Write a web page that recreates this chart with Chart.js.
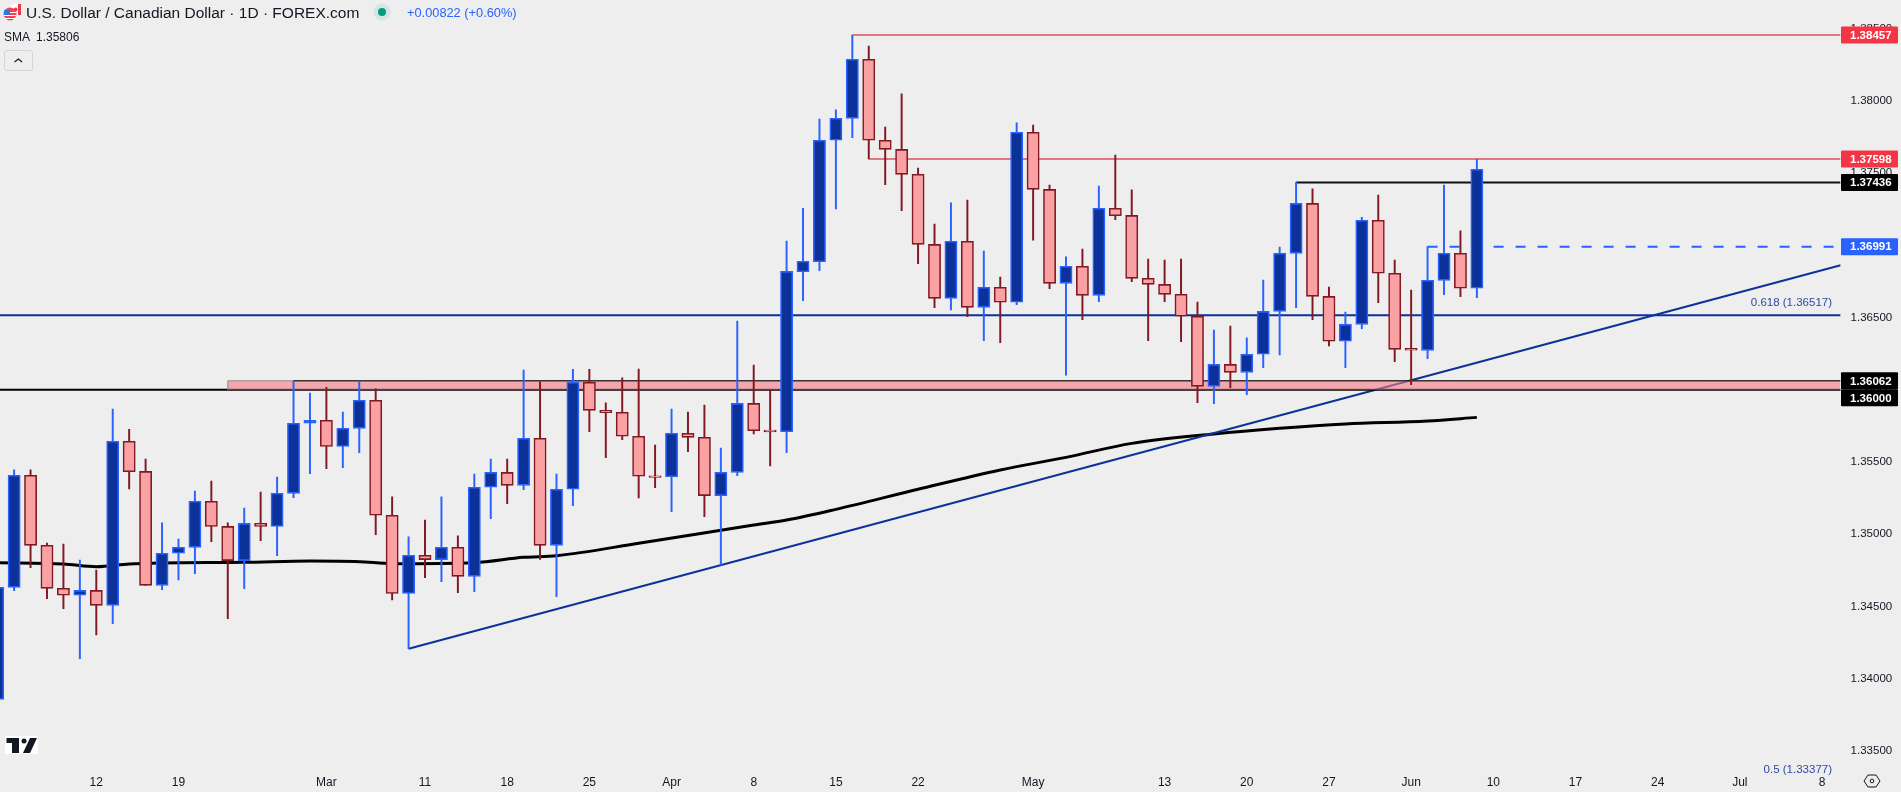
<!DOCTYPE html>
<html>
<head>
<meta charset="utf-8">
<title>USD/CAD daily</title>
<script src="https://cdn.jsdelivr.net/npm/chart.js@4/dist/chart.umd.js"></script>
<style>
  html, body { margin: 0; padding: 0; background: #eeeeee; overflow: hidden; }
  #wrap { position: relative; width: 1901px; height: 792px; }
  #wrap div { position: absolute; white-space: nowrap; font-family: "Liberation Sans", sans-serif; color: #131722; }
  #title { left: 26px; top: 4px; font-size: 15.5px; line-height: 18px; }
  #change { left: 407px; top: 4px; font-size: 12.8px; line-height: 18px; color: #2962ff !important; }
  #sma { left: 4px; top: 29px; font-size: 12px; line-height: 16px; }
  #sma span { margin-left: 6px; }
  #collapse { left: 4px; top: 50px; width: 27px; height: 19px; border: 1px solid #d3d3de; border-radius: 3px; }
</style>
</head>
<body>
<div id="wrap">
  <canvas id="chart" width="1901" height="792"></canvas>
  <div id="title">U.S. Dollar / Canadian Dollar · 1D · FOREX.com</div>
  <div id="change">+0.00822 (+0.60%)</div>
  <div id="sma">SMA<span>1.35806</span></div>
  <div id="collapse"></div>
</div>
<script>
// trading day number of the first candle, Feb 12 2024 is day 0
const firstDay = -6;

const opens = [
  1.33856, 1.34632, 1.35408, 1.34923, 1.34625, 1.34577, 1.34611, 1.34507, 1.35643, 1.35435,
  1.34646, 1.34868, 1.34909, 1.35228, 1.35054, 1.34817, 1.35075, 1.35054, 1.35283, 1.35768,
  1.35789, 1.35608, 1.35733, 1.35927, 1.35131, 1.34590, 1.34854, 1.34824, 1.34909, 1.34708,
  1.35325, 1.35428, 1.35338, 1.35664, 1.34923, 1.35311, 1.36052, 1.35858, 1.35844, 1.35678,
  1.35405, 1.35398, 1.35699, 1.35671, 1.35267, 1.35428, 1.35906, 1.35721, 1.35710, 1.36818,
  1.36887, 1.37728, 1.37880, 1.38289, 1.37728, 1.37665, 1.37492, 1.37007, 1.36633, 1.37028,
  1.36571, 1.36710, 1.36606, 1.37783, 1.37388, 1.36737, 1.36855, 1.36654, 1.37257, 1.37208,
  1.36772, 1.36730, 1.36661, 1.36509, 1.36024, 1.36176, 1.36121, 1.36246, 1.36543, 1.36945,
  1.37291, 1.36647, 1.36336, 1.36453, 1.37174, 1.36807, 1.36287, 1.36273, 1.36758, 1.36945,
  1.36703
];
const highs = [
  1.34632, 1.35445, 1.35445, 1.34939, 1.34932, 1.34821, 1.34752, 1.35867, 1.35726, 1.35521,
  1.35078, 1.34967, 1.35299, 1.35368, 1.35078, 1.35181, 1.35292, 1.35396, 1.36061, 1.35978,
  1.36017, 1.35846, 1.36061, 1.36006, 1.35258, 1.34981, 1.35098, 1.35258, 1.34988, 1.35417,
  1.35521, 1.35521, 1.36137, 1.36056, 1.35417, 1.36142, 1.36142, 1.35909, 1.36082, 1.36144,
  1.35618, 1.35867, 1.35846, 1.35895, 1.35597, 1.36476, 1.36172, 1.35999, 1.37030, 1.37257,
  1.37875, 1.37938, 1.38457, 1.38381, 1.37820, 1.38049, 1.37536, 1.37148, 1.37294, 1.37314,
  1.36961, 1.36781, 1.37848, 1.37834, 1.37418, 1.36920, 1.36975, 1.37411, 1.37626, 1.37384,
  1.36906, 1.36899, 1.36906, 1.36608, 1.36414, 1.36442, 1.36359, 1.36760, 1.36989, 1.37436,
  1.37391, 1.36712, 1.36539, 1.37194, 1.37349, 1.36899, 1.36691, 1.36991, 1.37418, 1.37100,
  1.37598
];
const lows = [
  1.33856, 1.34609, 1.34768, 1.34554, 1.34484, 1.34138, 1.34302, 1.34380, 1.35313, 1.34646,
  1.34616, 1.34683, 1.34727, 1.34948, 1.34415, 1.34623, 1.34955, 1.34851, 1.35253, 1.35419,
  1.35454, 1.35461, 1.35565, 1.34997, 1.34544, 1.34207, 1.34699, 1.34671, 1.34595, 1.34602,
  1.35108, 1.35211, 1.35308, 1.34826, 1.34567, 1.35198, 1.35710, 1.35530, 1.35655, 1.35251,
  1.35322, 1.35156, 1.35572, 1.35121, 1.34787, 1.35405, 1.35694, 1.35472, 1.35565, 1.36617,
  1.36825, 1.37252, 1.37746, 1.37598, 1.37421, 1.37241, 1.36874, 1.36569, 1.36553, 1.36506,
  1.36340, 1.36326, 1.36590, 1.37037, 1.36700, 1.36102, 1.36486, 1.36610, 1.37178, 1.36749,
  1.36340, 1.36610, 1.36333, 1.35911, 1.35904, 1.36015, 1.35966, 1.36153, 1.36241, 1.36569,
  1.36486, 1.36303, 1.36153, 1.36423, 1.36603, 1.36195, 1.36036, 1.36216, 1.36659, 1.36645,
  1.36638
];
const closes = [
  1.34632, 1.35408, 1.34923, 1.34625, 1.34577, 1.34611, 1.34507, 1.35643, 1.35433, 1.34646,
  1.34868, 1.34909, 1.35228, 1.35054, 1.34817, 1.35075, 1.35054, 1.35283, 1.35768, 1.35789,
  1.35608, 1.35733, 1.35927, 1.35131, 1.34590, 1.34854, 1.34824, 1.34909, 1.34708, 1.35325,
  1.35428, 1.35338, 1.35664, 1.34923, 1.35311, 1.36052, 1.35858, 1.35842, 1.35678, 1.35401,
  1.35393, 1.35699, 1.35671, 1.35267, 1.35428, 1.35906, 1.35717, 1.35709, 1.36820, 1.36890,
  1.37728, 1.37880, 1.38289, 1.37728, 1.37665, 1.37492, 1.37007, 1.36633, 1.37028, 1.36571,
  1.36710, 1.36606, 1.37783, 1.37388, 1.36737, 1.36855, 1.36654, 1.37257, 1.37206, 1.36772,
  1.36730, 1.36661, 1.36509, 1.36024, 1.36176, 1.36121, 1.36246, 1.36543, 1.36945, 1.37291,
  1.36647, 1.36336, 1.36453, 1.37174, 1.36807, 1.36280, 1.36275, 1.36758, 1.36945, 1.36703,
  1.37527
];

// 200 day SMA, read at the days where it bends
const smaDays = [-6, -2, 0, 2, 4, 9, 13, 16, 18, 23, 26, 28, 33, 40, 42, 45, 50, 55, 59, 63, 68, 72, 76, 81, 84];
const smaValues = [
  1.34803, 1.34794, 1.34775, 1.34794, 1.34801, 1.34805, 1.34814, 1.34810, 1.34796, 1.34803,
  1.34840, 1.34851, 1.34937, 1.35064, 1.35098, 1.35172, 1.35311, 1.35445, 1.35532, 1.35629,
  1.35694, 1.35733, 1.35763, 1.35784, 1.35809
];

const trendDays = [19, 106.13];
const trendValues = [1.34207, 1.36862];

const fibLevel = 1.36517;
const supportLevel = 1.36;
const zoneTop = 1.36062;
const zoneStartDay = 8;
const zoneEdgeDay = 12;
const highLevels = [1.38457, 1.37598, 1.37436];
const highStartDays = [46, 47, 73];
const prevCloseLevel = 1.36991;
const prevCloseDay = 81;

const tickDays = [0, 5, 14, 20, 25, 30, 35, 40, 45, 50, 57, 65, 70, 75, 80, 85, 90, 95, 100, 105];
const tickLabels = ['12', '19', 'Mar', '11', '18', '25', 'Apr', '8', '15', '22', 'May', '13', '20', '27', 'Jun', '10', '17', '24', 'Jul', '8'];
const priceTicks = [1.335, 1.34, 1.345, 1.35, 1.355, 1.36, 1.365, 1.37, 1.375, 1.38, 1.385];
const priceTags = [1.38457, 1.37598, 1.37436, 1.36991, 1.36062, 1.36];
const tagColors = ['#f23645', '#f23645', '#000000', '#2962ff', '#000000', '#000000'];

const fibLabels = ['0.618 (1.36517)', '0.5 (1.33377)'];
const fibLabelValues = [1.36517, 1.33377];

const xMin = -5.859;
const xMax = 106.13;
const yMin = 1.33367;
const yMax = 1.386994;

const fontName = '"Liberation Sans", sans-serif';
const upBody = '#0c3299';
const upEdge = '#2962ff';
const downBody = '#faa1a4';
const downEdge = '#801922';
const lineBlue = '#0c3299';
const levelRed = '#dd4f5b';

const isUp = opens.map((o, i) => closes[i] >= o);

const bodies = opens.map((o, i) => ({ x: i + firstDay, y: [o, closes[i]] }));
const wicks = lows.map((l, i) => ({ x: i + firstDay, y: [l, highs[i]] }));

const hline = (startDay, value) => [{ x: startDay, y: value }, { x: xMax, y: value }];
const lineSet = (label, data, color, width, order, extra = {}) => ({
  type: 'line', label, data, borderColor: color, borderWidth: width,
  pointRadius: 0, fill: false, tension: 0, order, ...extra
});

// Tags, fib labels and the small TradingView furniture
const overlay = {
  id: 'overlay',
  afterDraw(chart) {
    const { ctx, scales } = chart;
    const y = scales.y;
    ctx.save();

    ctx.font = '11.5px ' + fontName;
    ctx.textBaseline = 'middle';
    ctx.textAlign = 'right';
    ctx.fillStyle = '#2b4aa3';
    fibLabels.forEach((txt, i) => {
      ctx.fillText(txt, 1832, y.getPixelForValue(fibLabelValues[i]) - 12 * (i === 0 ? 1 : 0) + (i === 1 ? 1 : 0));
    });

    ctx.textAlign = 'left';
    let lastY = -100;
    priceTags.forEach((v, i) => {
      const py = Math.max(y.getPixelForValue(v), lastY + 17);
      lastY = py;
      ctx.fillStyle = tagColors[i];
      ctx.beginPath();
      ctx.roundRect(1841, py - 8.5, 57, 17, 1);
      ctx.fill();
      ctx.fillStyle = '#ffffff';
      ctx.font = 'bold 11.5px ' + fontName;
      ctx.fillText(v.toFixed(5), 1850, py + 0.5);
    });

    // status dot
    ctx.fillStyle = '#d3e6e3';
    ctx.beginPath(); ctx.arc(382, 12, 8.5, 0, Math.PI * 2); ctx.fill();
    ctx.fillStyle = '#089981';
    ctx.beginPath(); ctx.arc(382, 12, 4, 0, Math.PI * 2); ctx.fill();

    // flags
    ctx.fillStyle = '#ffffff';
    ctx.beginPath(); ctx.arc(15.5, 9.5, 6, 0, Math.PI * 2); ctx.fill();
    ctx.fillStyle = '#e8394a';
    ctx.fillRect(18, 4, 3, 11);
    ctx.beginPath(); ctx.arc(15.5, 9.5, 2, 0, Math.PI * 2); ctx.fill();
    ctx.fillStyle = '#f0434f';
    ctx.beginPath(); ctx.arc(10, 14, 6.5, 0, Math.PI * 2); ctx.fill();
    ctx.fillStyle = '#ffffff';
    ctx.fillRect(4, 12, 12, 1); ctx.fillRect(4, 15, 12, 1); ctx.fillRect(5, 18, 10, 1);
    ctx.fillStyle = '#3a76d8';
    ctx.fillRect(4, 10, 6, 5);

    // collapse chevron
    ctx.strokeStyle = '#131722';
    ctx.lineWidth = 1.2;
    ctx.beginPath(); ctx.moveTo(14.5, 62); ctx.lineTo(18.5, 59); ctx.lineTo(22, 62); ctx.stroke();

    // logo
    ctx.fillStyle = '#ffffff';
    ctx.fillRect(5, 736, 33, 18);
    ctx.fillStyle = '#131722';
    ctx.fillRect(6.5, 738, 12, 5);
    ctx.fillRect(12, 738, 7, 15);
    ctx.beginPath(); ctx.arc(24, 741, 2.5, 0, Math.PI * 2); ctx.fill();
    ctx.beginPath(); ctx.moveTo(30, 738); ctx.lineTo(37, 738); ctx.lineTo(30, 753); ctx.lineTo(23, 753); ctx.fill();

    // settings hexagon
    ctx.strokeStyle = '#131722';
    ctx.lineWidth = 1;
    ctx.beginPath();
    ctx.moveTo(1864, 781); ctx.lineTo(1868, 775); ctx.lineTo(1876, 775);
    ctx.lineTo(1880, 781); ctx.lineTo(1876, 787); ctx.lineTo(1868, 787);
    ctx.closePath(); ctx.stroke();
    ctx.beginPath(); ctx.arc(1872, 781, 1.8, 0, Math.PI * 2); ctx.stroke();
    ctx.restore();
  }
};

new Chart(document.getElementById('chart').getContext('2d'), {
  type: 'bar',
  data: {
    datasets: [
      { label: 'Body', data: bodies, order: 1, grouped: false, barThickness: 12.2, borderWidth: 1.6, borderSkipped: false,
        backgroundColor: isUp.map(u => u ? upBody : downBody), borderColor: isUp.map(u => u ? upEdge : downEdge) },
      { label: 'Wick', data: wicks, order: 2, grouped: false, barThickness: 1.3, borderWidth: 0, borderSkipped: false,
        backgroundColor: isUp.map(u => u ? upEdge : downEdge) },
      lineSet('Zone top', hline(zoneEdgeDay, zoneTop), '#000000', 1, 2.5),
      lineSet('Zone', [{ x: zoneStartDay, y: supportLevel }, { x: zoneStartDay, y: zoneTop }, { x: xMax, y: zoneTop }], '#8a8a8a', 1, 3,
        { fill: { value: supportLevel }, backgroundColor: 'rgba(246, 121, 135, 0.6)' }),
      lineSet('Support', hline(xMin, supportLevel), '#000000', 2, 5),
      lineSet('Fib 0.618', hline(xMin, fibLevel), lineBlue, 2, 6),
      lineSet('Trend', trendDays.map((d, i) => ({ x: d, y: trendValues[i] })), lineBlue, 2, 7),
      lineSet('SMA', smaDays.map((d, i) => ({ x: d, y: smaValues[i] })), '#000000', 3, 8, { cubicInterpolationMode: 'monotone' }),
      lineSet('High', hline(highStartDays[0], highLevels[0]), levelRed, 1.4, 9),
      lineSet('Lower high', hline(highStartDays[1], highLevels[1]), levelRed, 1.4, 10),
      lineSet('Swing high', hline(highStartDays[2], highLevels[2]), '#111111', 2, 11),
      lineSet('Prev close', hline(prevCloseDay, prevCloseLevel), '#2962ff', 2, 12, { borderDash: [10, 12] })
    ]
  },
  options: {
    responsive: false,
    animation: false,
    parsing: { xAxisKey: 'x', yAxisKey: 'y' },
    layout: { padding: 0 },
    plugins: {
      legend: { display: false },
      title: { display: false },
      tooltip: { enabled: false }
    },
    scales: {
      x: {
        type: 'linear',
        offset: false,
        min: xMin,
        max: xMax,
        grid: { display: false, drawTicks: false, offset: false },
        border: { display: false },
        afterBuildTicks: axis => { axis.ticks = tickDays.map(value => ({ value })); },
        afterFit: axis => { axis.height = 22; axis.paddingLeft = 0; axis.paddingRight = 0; },
        ticks: {
          autoSkip: false,
          maxRotation: 0,
          padding: 5,
          color: '#131722',
          font: { family: fontName, size: 12 },
          callback: value => tickLabels[tickDays.indexOf(value)]
        }
      },
      y: {
        position: 'right',
        min: yMin,
        max: yMax,
        grid: { display: false, drawTicks: false },
        border: { display: false },
        afterBuildTicks: axis => { axis.ticks = priceTicks.map(value => ({ value })); },
        afterFit: axis => { axis.width = 60.4; axis.paddingTop = 0; axis.paddingBottom = 0; },
        ticks: {
          autoSkip: false,
          padding: 10,
          color: '#131722',
          font: { family: fontName, size: 11.5 },
          callback: value => value.toFixed(5)
        }
      }
    }
  },
  plugins: [overlay]
});
</script>
</body>
</html>
